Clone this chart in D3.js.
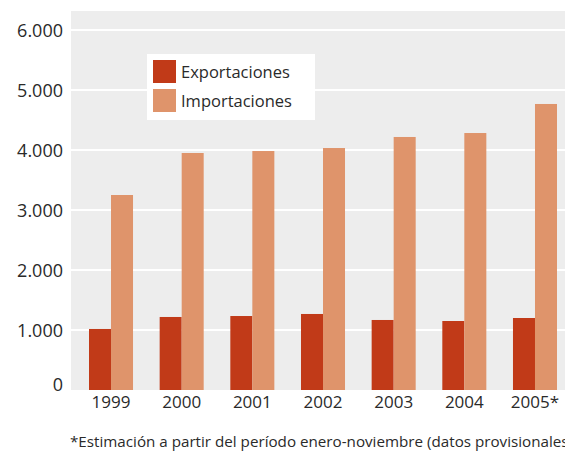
<!DOCTYPE html>
<html>
<head>
<meta charset="utf-8">
<script src="https://cdn.jsdelivr.net/npm/d3@7"></script>
<style>
  body { margin: 0; background: #fff; }
  text { font-family: 'Open Sans', sans-serif; fill: #2a2a2a; }
</style>
</head>
<body>
<div id="chart"></div>
<script>
let years = ['1999', '2000', '2001', '2002', '2003', '2004', '2005*']
let exportaciones = [1017, 1217, 1233, 1267, 1167, 1150, 1200]
let importaciones = [3250, 3950, 3983, 4033, 4217, 4283, 4767]
let yTicks = [0, 1000, 2000, 3000, 4000, 5000, 6000]
let seriesNames = ['Exportaciones', 'Importaciones']
let footnote = '*Estimación a partir del período enero-noviembre (datos provisionales)'

let width = 565
let height = 451

let colorScale = d3.scaleOrdinal().domain(seriesNames).range(['#c13a18', '#df946b'])

let svg = d3
  .select('#chart')
  .append('svg')
  .attr('width', width)
  .attr('height', height)
  .style('display', 'block')

let plot = { left: 71, top: 11, right: 565, bottom: 390 }

let yPositionScale = d3.scaleLinear().domain([0, 6000]).range([390, 30])

let xPositionScale = d3
  .scaleBand()
  .domain(years)
  .range([89, 557])
  .paddingInner(0.377)
  .paddingOuter(0)

let xSub = d3
  .scaleBand()
  .domain(seriesNames)
  .range([0, xPositionScale.bandwidth()])

// plot background
svg
  .append('rect')
  .attr('x', plot.left)
  .attr('y', plot.top)
  .attr('width', plot.right - plot.left)
  .attr('height', plot.bottom - plot.top)
  .attr('fill', '#ededed')

// gridlines
svg
  .selectAll('.grid')
  .data(yTicks.filter(d => d > 0))
  .enter()
  .append('line')
  .attr('class', 'grid')
  .attr('x1', plot.left)
  .attr('x2', plot.right)
  .attr('y1', d => yPositionScale(d))
  .attr('y2', d => yPositionScale(d))
  .attr('stroke', '#fff')
  .attr('stroke-width', 2)

let rows = years.map((y, i) => ({ year: y, values: [exportaciones[i], importaciones[i]] }))

let groups = svg
  .selectAll('.group')
  .data(rows)
  .enter()
  .append('g')
  .attr('class', 'group')
  .attr('transform', d => 'translate(' + xPositionScale(d.year) + ',0)')

groups
  .selectAll('rect')
  .data(d => d.values.map((v, i) => ({ key: seriesNames[i], value: v })))
  .enter()
  .append('rect')
  .attr('x', d => xSub(d.key))
  .attr('width', xSub.bandwidth())
  .attr('y', d => yPositionScale(d.value))
  .attr('height', d => yPositionScale(0) - yPositionScale(d.value))
  .attr('fill', d => colorScale(d.key))

// y axis labels
let yAxis = d3
  .axisLeft(yPositionScale)
  .tickValues(yTicks)
  .tickSize(0)
  .tickPadding(0)
  .tickFormat(d => d3.format(',')(d).replace(/,/g, '.'))

svg
  .append('g')
  .attr('class', 'axis y-axis')
  .attr('transform', 'translate(63,0)')
  .call(yAxis)
  .call(g => g.select('.domain').remove())
  .call(g =>
    g
      .selectAll('text')
      .attr('font-size', 18)
      .attr('font-family', 'Open Sans, sans-serif')
      .attr('fill', '#2a2a2a')
      .attr('dy', d => (d === 0 ? '0.05em' : '0.34em'))
  )

// x axis labels
let xAxis = d3.axisBottom(xPositionScale).tickSize(0).tickPadding(0)

svg
  .append('g')
  .attr('class', 'axis x-axis')
  .attr('transform', 'translate(0,395)')
  .call(xAxis)
  .call(g => g.select('.domain').remove())
  .call(g =>
    g
      .selectAll('text')
      .attr('font-size', 17)
      .attr('font-family', 'Open Sans, sans-serif')
      .attr('fill', '#2a2a2a')
      .attr('dy', '0.75em')
  )

// legend
let legend = svg.append('g').attr('class', 'legend')

legend
  .append('rect')
  .attr('x', 147)
  .attr('y', 54)
  .attr('width', 168)
  .attr('height', 66)
  .attr('fill', '#fff')

seriesNames.forEach((name, i) => {
  legend
    .append('rect')
    .attr('x', 153)
    .attr('y', 60 + i * 29)
    .attr('width', 23)
    .attr('height', 23)
    .attr('fill', colorScale(name))
  legend
    .append('text')
    .attr('x', 181)
    .attr('y', 78 + i * 29)
    .attr('font-size', 16.5)
    .text(name)
})

svg
  .append('text')
  .attr('x', 70)
  .attr('y', 447)
  .attr('font-size', 15.2)
  .text(footnote)
</script>
</body>
</html>
